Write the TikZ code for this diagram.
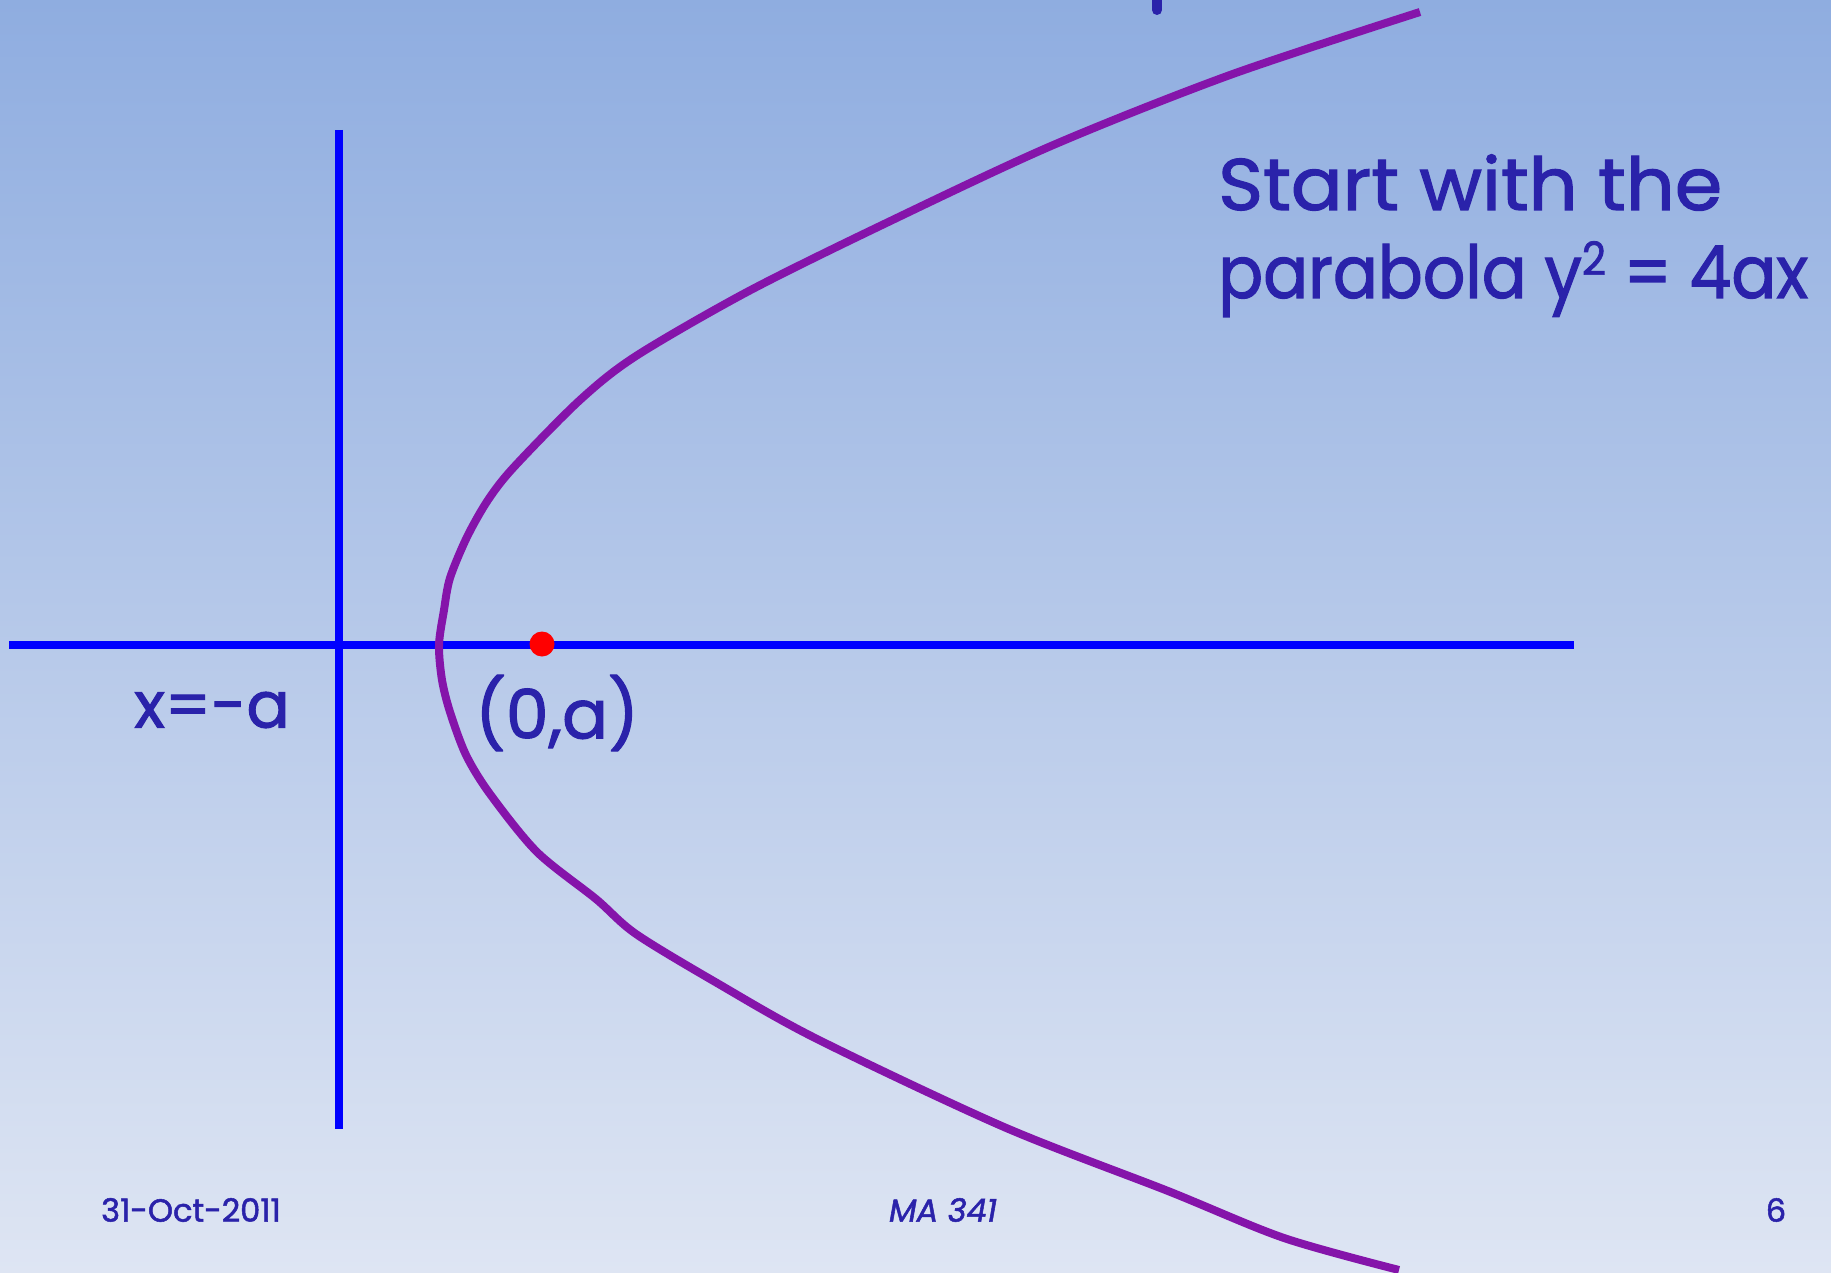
\documentclass[tikz,border=0pt]{standalone}
\usepackage{fontspec}
\setmainfont{Poppins}[FakeBold=1.6]
\definecolor{bgtop}{RGB}{143,173,224}
\definecolor{bgbot}{RGB}{222,229,243}
\definecolor{axisblue}{RGB}{0,0,255}
\definecolor{curvepurple}{RGB}{133,20,170}
\definecolor{textblue}{RGB}{42,34,170}
\tikzset{
  axisline/.style={draw=axisblue, line width=7.5pt},
  curveline/.style={draw=curvepurple, line width=8pt, line join=round},
  lbl/.style={text=textblue, inner sep=0pt, font=\fontsize{64}{72}\selectfont},
  titleline/.style={text=textblue, inner sep=0pt, anchor=base west, font=\fontsize{73}{80}\selectfont},
  foot/.style={text=textblue, inner sep=0pt, font=\fontsize{32}{36}\selectfont},
}
\begin{document}
\begin{tikzpicture}[x=1pt,y=-1pt]
\shade[top color=bgtop,bottom color=bgbot] (0,0) rectangle (1831,1273);
\useasboundingbox (0,0) rectangle (1831,1273);
% axes
\coordinate (hL) at (9,645);
\coordinate (hR) at (1574,645);
\coordinate (vT) at (339,130);
\coordinate (vB) at (339,1129);
\draw[axisline] (hL) -- (hR);
\draw[axisline] (vT) -- (vB);
% fragment of title at top
\coordinate (tT) at (1157,-6);
\coordinate (tB) at (1157,10);
\draw[draw=textblue, line width=10pt, line cap=round] (tT) -- (tB);
% parabola
\draw[curveline] plot[smooth, tension=0.5] coordinates {
 (1420,12) (1230,75) (1051,146) (880,226) (747,292) (636,356) (580,400)
 (514,467) (488,500) (467,537) (450,578) (444,610) (439,645) (442,680) (450,712)
 (466,755) (490,794) (537,852) (596,899) (636,934) (717,983) (817,1039)
 (1004,1127) (1168,1191) (1284,1238) (1399,1270)};
% focus
\node[circle, fill=red, minimum size=25pt, inner sep=0pt] (focus) at (542,644) {};
% labels
\node[lbl] (dirlbl) at (212,710) {x=-a};
\node[lbl, font=\fontsize{68}{76}\selectfont] (foclbl) at (557,713) {(0,a)};
\node[titleline] (title1) at (1218,210)
      {\resizebox{504pt}{\height}{Start with the}};
\node[titleline] (title2) at (1218,298)
      {\resizebox{590pt}{\height}{parabola y\raisebox{23pt}{\fontsize{46}{50}\selectfont 2} = 4ax}};
% footer
\node[foot] (date) at (191,1210) {31-Oct-2011};
\node[foot, font=\fontsize{32}{36}\selectfont\itshape] (course) at (943,1210) {MA 341};
\node[foot] (page) at (1776,1210) {6};
\end{tikzpicture}
\end{document}
